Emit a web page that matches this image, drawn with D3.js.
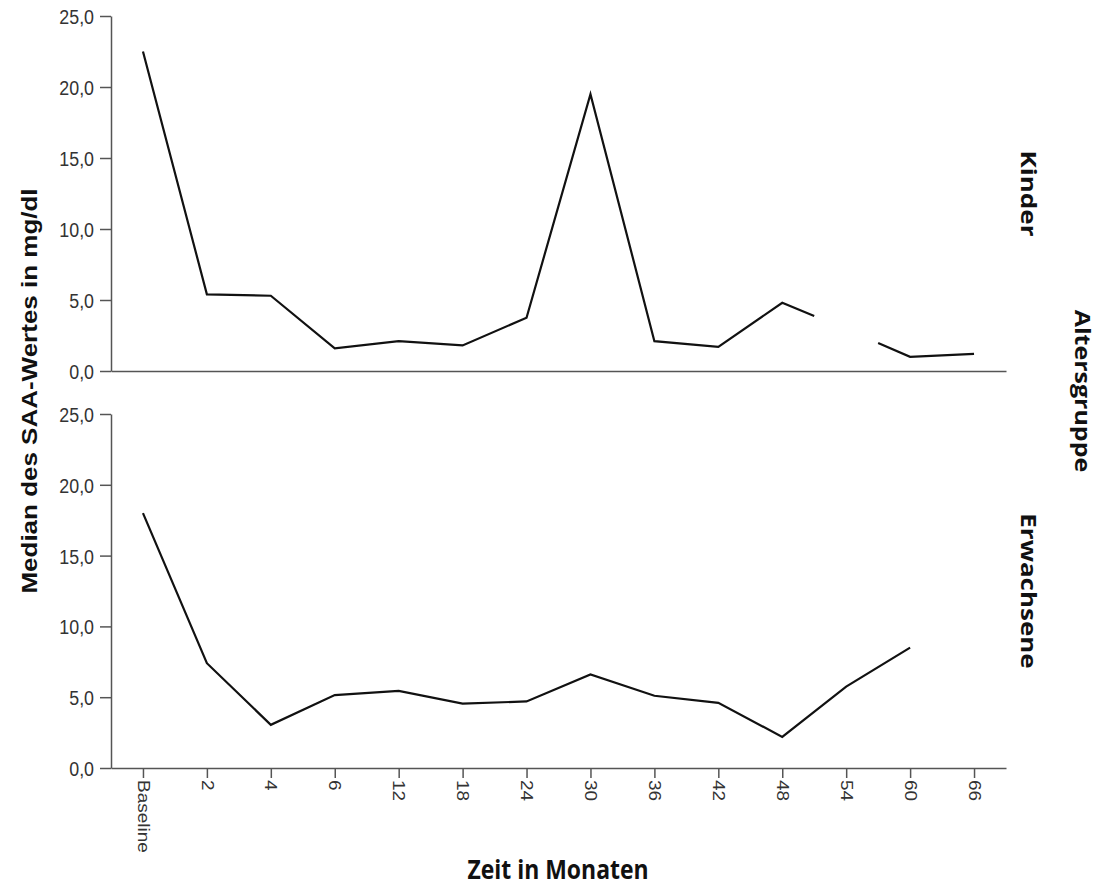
<!DOCTYPE html>
<html><head><meta charset="utf-8">
<script src="https://cdn.jsdelivr.net/npm/d3@7"></script>
<style>body{margin:0;background:#fff}</style>
</head><body>
<svg id="c" width="1100" height="889"></svg>
<script>
const categories = ["Baseline","2","4","6","12","18","24","30","36","42","48","54","60","66"];
const kinder =     [22.5, 5.4, 5.3, 1.6, 2.1, 1.8, 3.75, 19.5, 2.1, 1.7, 4.8, 2.95, 1.0, 1.2];
const kinderHidden = ["54"];
const erwachsene = [18.0, 7.4, 3.05, 5.15, 5.45, 4.55, 4.7, 6.6, 5.1, 4.6, 2.2, 5.75, 8.5, null];
const yTicks = [0,5,10,15,20,25];
const panels = [
  {name:"Kinder", values:kinder, hidden:kinderHidden, top:16, bottom:371, xTicks:false},
  {name:"Erwachsene", values:erwachsene, hidden:[], top:414, bottom:768, xTicks:true}
];

const SX = 0.85; // horizontal squeeze of the source rendering
const svg = d3.select("#c");
const x = d3.scalePoint().domain(categories).range([111,1006]).padding(0.5);
const fmt = v => d3.format(".1f")(v).replace(".", ",");
const axisColor = "#555";
const sans = "Liberation Sans, Arial, sans-serif";
const ui = "Open Sans, Noto Sans, sans-serif";

panels.forEach(p => {
  const y = d3.scaleLinear().domain([0,25]).range([p.bottom,p.top]);
  const g = svg.append("g");
  const ya = g.append("g").attr("transform","translate(111,0)")
    .call(d3.axisLeft(y).tickValues(yTicks).tickFormat(fmt).tickSize(11).tickSizeOuter(0));
  ya.select(".domain").attr("stroke",axisColor).attr("stroke-width",1.5);
  ya.selectAll(".tick line").attr("stroke",axisColor).attr("stroke-width",1.5);
  ya.selectAll(".tick text").attr("font-family",sans)
    .attr("font-size",21).attr("fill","#333").attr("x",-20).attr("dy","0.36em")
    .attr("transform",`scale(${SX},1)`);

  const xa = g.append("g").attr("transform",`translate(0,${p.bottom})`)
    .call(d3.axisBottom(x).tickSize(p.xTicks?10:0).tickSizeOuter(0));
  xa.select(".domain").attr("stroke",axisColor).attr("stroke-width",1.5);
  xa.selectAll(".tick line").attr("stroke",axisColor).attr("stroke-width",1.5);
  if (p.xTicks) {
    xa.selectAll(".tick text")
      .attr("font-family",sans).attr("font-size",19).attr("fill","#333")
      .attr("transform",`scale(${SX},1) rotate(90)`).attr("x",12).attr("y",0).attr("dy","0.36em")
      .attr("text-anchor","start");
  } else {
    xa.selectAll(".tick text").remove();
  }

  // polyline runs; a hidden point leaves half-segments toward it from neighbours
  const pts = categories.map((c,i)=>({c, v:p.values[i]}));
  const isVis = d => d && d.v!=null && !p.hidden.includes(d.c);
  const hasVal = d => d && d.v!=null;
  const runs = [];
  let cur = null;
  pts.forEach((d,i)=>{
    if (!isVis(d)) { cur=null; return; }
    const cx=x(d.c), cy=y(d.v);
    const prev=pts[i-1], next=pts[i+1];
    if (!cur) {
      cur=[]; runs.push(cur);
      if (hasVal(prev)) cur.push([(x(prev.c)+cx)/2,(y(prev.v)+cy)/2]);
    }
    cur.push([cx,cy]);
    if (!isVis(next) && hasVal(next)) cur.push([(x(next.c)+cx)/2,(y(next.v)+cy)/2]);
  });
  g.selectAll("path.series").data(runs).join("path").attr("class","series")
    .attr("d",d3.line()).attr("fill","none").attr("stroke","#111").attr("stroke-width",2.2)
    .attr("stroke-linejoin","miter");

  svg.append("text").attr("transform",`translate(1029,${(p.top+p.bottom)/2}) scale(${SX},1) rotate(90)`)
    .attr("text-anchor","middle").attr("dy","0.35em")
    .attr("font-family",ui).attr("font-weight","bold")
    .attr("font-size",26).attr("fill","#111").text(p.name);
});

svg.append("text").attr("transform",`translate(1082,391) scale(${SX},1) rotate(90)`)
  .attr("text-anchor","middle").attr("dy","0.35em")
  .attr("font-family",ui).attr("font-weight","bold")
  .attr("font-size",25).attr("fill","#111").text("Altersgruppe");

svg.append("text").attr("transform",`translate(29,391) scale(${SX},1) rotate(-90)`)
  .attr("text-anchor","middle").attr("dy","0.35em")
  .attr("font-family",sans).attr("font-weight","bold")
  .attr("font-size",26).attr("fill","#111").text("Median des SAA-Wertes in mg/dl");

svg.append("text").attr("transform",`translate(558,879) scale(${SX},1)`)
  .attr("text-anchor","middle")
  .attr("font-family",ui).attr("font-weight","bold")
  .attr("font-size",27).attr("fill","#111").text("Zeit in Monaten");
</script>
</body></html>
